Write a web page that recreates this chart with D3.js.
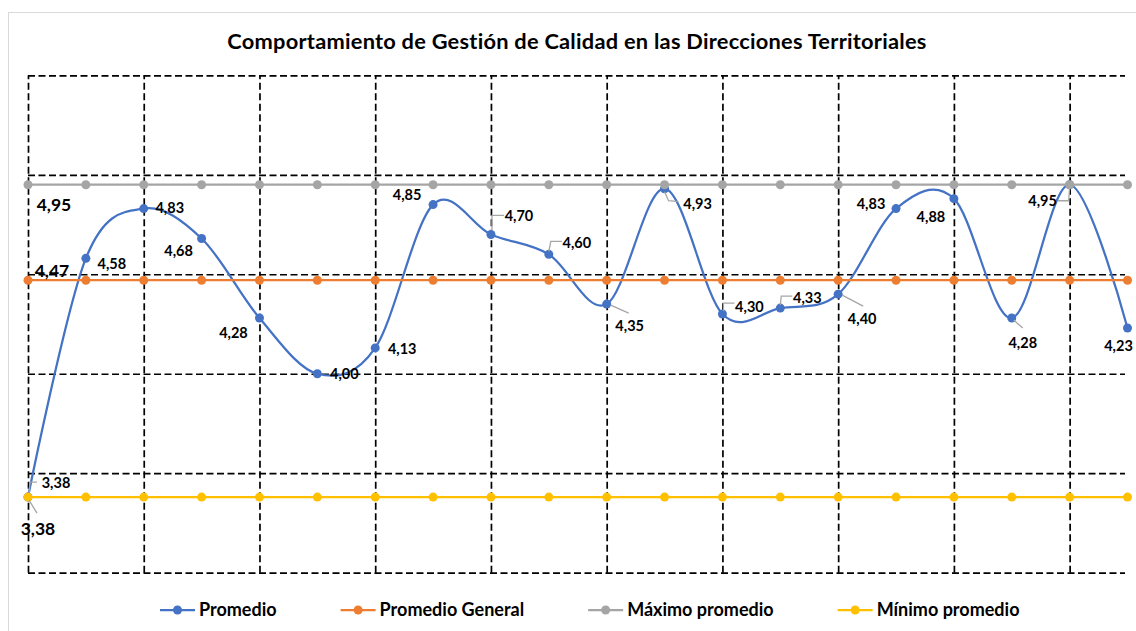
<!DOCTYPE html>
<html>
<head>
    <meta charset="utf-8">
    <script src="https://cdn.jsdelivr.net/npm/d3@7"></script>
    <style>
        body { margin: 0; background: #fff; }
        svg { display: block; font-family: Lato, "Open Sans", sans-serif; }
        .grid line { stroke: #000; stroke-width: 1.7; stroke-dasharray: 7, 3.5; }
        .grid .domain { display: none; }
    </style>
</head>
<body>
    <div id="chart"></div>

    <script>
        ///////////////////////////
        // data

        const direcciones = ["DT1", "DT2", "DT3", "DT4", "DT5", "DT6", "DT7", "DT8", "DT9", "DT10",
            "DT11", "DT12", "DT13", "DT14", "DT15", "DT16", "DT17", "DT18", "DT19", "DT20"];
        const promedio = [3.38, 4.58, 4.83, 4.68, 4.28, 4.00, 4.13, 4.85, 4.70, 4.60,
            4.35, 4.93, 4.30, 4.33, 4.40, 4.83, 4.88, 4.28, 4.95, 4.23];
        const promedioGeneral = 4.47;
        const maximoPromedio = 4.95;
        const minimoPromedio = 3.38;
        const yTicks = [3.0, 3.5, 4.0, 4.5, 5.0, 5.5];
        const titulo = "Comportamiento de Gestión de Calidad en las Direcciones Territoriales";

        const series = [
            { name: "Promedio", color: "#4472C4", values: promedio },
            { name: "Promedio General", color: "#ED7D31", values: direcciones.map(() => promedioGeneral) },
            { name: "Máximo promedio", color: "#A5A5A5", values: direcciones.map(() => maximoPromedio) },
            { name: "Mínimo promedio", color: "#FFC000", values: direcciones.map(() => minimoPromedio) }
        ];

        // label placement (offset of label centre from its point) + leader lines
        const labelLayout = [
            { d: [28, -15], leader: [[9, -15], [2, -15], [1, -4]] },
            { d: [26, 5] },
            { d: [26, -1] },
            { d: [-23, 12] },
            { d: [-26, 14] },
            { d: [27, 0] },
            { d: [27, 1] },
            { d: [-26, -10] },
            { d: [28, -19], leader: [[13, -19], [1, -19], [1, -4]] },
            { d: [28, -12], leader: [[13, -13], [2, -13], [0, -3]] },
            { d: [23, 21], leader: [[4, 1], [22, 9]] },
            { d: [33, 15], leader: [[0, 3], [4, 12], [14, 13]] },
            { d: [27, -8], leader: [[1, -3], [1, -11], [12, -11]] },
            { d: [27, -11], leader: [[0, -3], [1, -12], [12, -12]] },
            { d: [24, 24], leader: [[4, 1], [25, 12]] },
            { d: [-25, -5] },
            { d: [-23, 18] },
            { d: [11, 24], leader: [[2, 2], [11, 10]] },
            { d: [-27, 16], leader: [[0, 3], [-1, 16], [-12, 16]] },
            { d: [-9, 18] }
        ];
        // labels of the reference series, placed at their first point
        const refLabels = [
            { s: 1, d: [24, -10] },
            { s: 2, d: [26, 20] },
            { s: 3, d: [10, 31], leader: [[1, 3], [9, 16]] }
        ];

        ///////////////////////////
        // chart

        const width = 1136, height = 631;
        const fmt = v => d3.format(".2f")(v).replace(".", ",");

        const svg = d3.select("#chart").append("svg")
            .attr("width", width)
            .attr("height", height);

        svg.append("rect")
            .attr("x", 8.5).attr("y", 12.5)
            .attr("width", 1300).attr("height", 800)
            .attr("fill", "#fff")
            .attr("stroke", "#d9d9d9");

        const x = d3.scalePoint().domain(d3.range(direcciones.length)).range([28, 1127.5]);
        const y = d3.scaleLinear().domain([3, 5.5]).range([572.7, 75.3]);

        // horizontal grid
        svg.append("g")
            .attr("class", "grid")
            .attr("transform", `translate(${x(0)},0)`)
            .call(d3.axisRight(y).tickValues(yTicks).tickSize(1097).tickFormat(""));

        // vertical grid (every 2nd category)
        svg.append("g")
            .attr("class", "grid")
            .attr("transform", `translate(0,${y(3)})`)
            .call(d3.axisTop(x).tickValues(x.domain().filter(i => i % 2 === 0))
                .tickSize(y(3) - y(5.5)).tickFormat(""));

        svg.append("text")
            .attr("x", 577)
            .attr("y", 49)
            .attr("text-anchor", "middle")
            .attr("font-size", 21.8)
            .attr("font-weight", "bold")
            .attr("letter-spacing", 0.25)
            .text(titulo);

        const smooth = d3.line()
            .x((d, i) => x(i))
            .y(d => y(d))
            .curve(d3.curveCatmullRom.alpha(0));
        const straight = d3.line()
            .x((d, i) => x(i))
            .y(d => y(d));

        series.forEach((s, k) => {
            const g = svg.append("g");
            g.append("path")
                .attr("d", (k === 0 ? smooth : straight)(s.values))
                .attr("fill", "none")
                .attr("stroke", s.color)
                .attr("stroke-width", 2.25);
            g.selectAll("circle")
                .data(s.values)
                .join("circle")
                .attr("cx", (d, i) => x(i))
                .attr("cy", d => y(d))
                .attr("r", 4.5)
                .attr("fill", s.color);
        });

        // leader lines + labels
        const leaders = svg.append("g")
            .attr("fill", "none")
            .attr("stroke", "#A6A6A6")
            .attr("stroke-width", 1.3);

        const labels = svg.append("g")
            .attr("text-anchor", "middle")
            .attr("dominant-baseline", "central")
            .attr("font-weight", "bold");

        promedio.forEach((v, i) => {
            const px = x(i), py = y(v);
            const l = labelLayout[i];
            if (l.leader) {
                leaders.append("polyline")
                    .attr("points", l.leader.map(p => [px + p[0], py + p[1]].join(",")).join(" "));
            }
            labels.append("text")
                .attr("x", px + l.d[0])
                .attr("y", py + l.d[1])
                .attr("font-size", 14.5)
                .text(fmt(v));
        });

        refLabels.forEach(r => {
            const v = series[r.s].values[0];
            const px = x(0), py = y(v);
            if (r.leader) {
                leaders.append("polyline")
                    .attr("points", r.leader.map(p => [px + p[0], py + p[1]].join(",")).join(" "));
            }
            labels.append("text")
                .attr("x", px + r.d[0])
                .attr("y", py + r.d[1])
                .attr("font-size", 17.5)
                .text(fmt(v));
        });

        ///////////////////////////
        // legend

        const legend = svg.append("g").attr("transform", "translate(160,610)");
        let lx = 0;
        series.forEach(s => {
            const item = legend.append("g").attr("transform", `translate(${lx},0)`);
            item.append("line")
                .attr("x1", 0).attr("x2", 35)
                .attr("stroke", s.color)
                .attr("stroke-width", 2.25);
            item.append("circle")
                .attr("cx", 17.5).attr("r", 4.5)
                .attr("fill", s.color);
            const t = item.append("text")
                .attr("x", 39)
                .attr("y", 6)
                .attr("font-size", 18)
                .attr("font-weight", "bold")
                .text(s.name);
            lx += 39 + t.node().getComputedTextLength() + 64;
        });
    </script>
</body>
</html>
